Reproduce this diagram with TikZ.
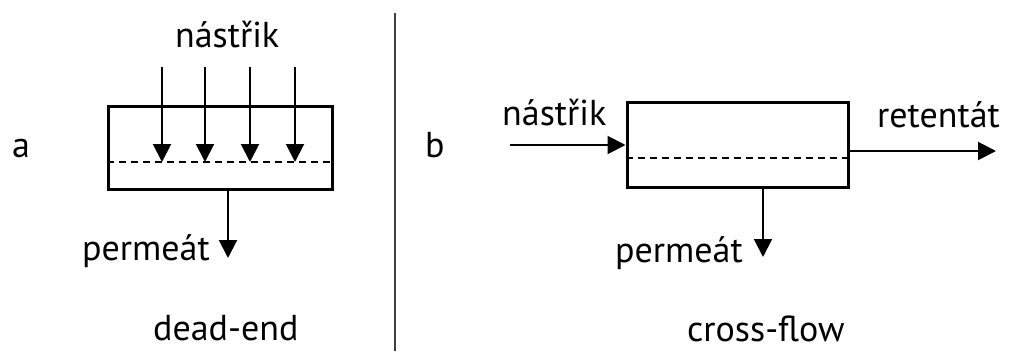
\documentclass[tikz,border=0pt]{standalone}
\usepackage{fontspec}
\setmainfont{PT Sans}
\usetikzlibrary{arrows.meta}
\begin{document}
\begin{tikzpicture}[x=1pt,y=-1pt,
  lbl/.style={font=\fontsize{36}{42}\selectfont, inner sep=0pt, anchor=base west},
  unitbox/.style={draw, line width=3pt, inner sep=0pt},
  flow/.style={line width=2pt, -{Triangle[length=18pt,width=18pt]}},
  memb/.style={line width=2pt, dash pattern=on 7pt off 5pt},
  sep/.style={line width=1.4pt, black!75}]
\useasboundingbox[fill=white] (0,0) rectangle (1010,351);
% ---------- a: dead-end ----------
\node[unitbox, minimum width=224pt, minimum height=83pt] (boxa) at (220,147.5) {};
\coordinate (ma) at (108,162);
\draw[memb] (boxa.west |- ma) -- (boxa.east |- ma);
\foreach \i/\x in {1/162,2/205,3/250,4/295}{
  \coordinate (fa\i) at (\x,67);
  \draw[flow] (fa\i) -- (fa\i |- ma);
}
\coordinate (pa) at (228,258);
\draw[flow] (boxa.south -| pa) -- (pa);
\node[lbl] (ta) at (12,157) {a};
\node[lbl] (feeda) at (175,47) {nástřik};
\node[lbl] (perma) at (82,260) {permeát};
\node[lbl] (dead) at (153,340) {dead-end};
% ---------- separator ----------
\coordinate (st) at (395,13);
\coordinate (sb) at (395,351);
\draw[sep] (st) -- (sb);
% ---------- b: cross-flow ----------
\node[unitbox, minimum width=221pt, minimum height=85pt] (boxb) at (737.5,144.5) {};
\coordinate (mb) at (627,158);
\draw[memb] (boxb.west |- mb) -- (boxb.east |- mb);
\coordinate (fin) at (510,145);
\draw[flow] (fin) -- (fin -| boxb.west);
\coordinate (rout) at (996,151);
\draw[flow] (rout -| boxb.east) -- (rout);
\coordinate (pb) at (763,257);
\draw[flow] (boxb.south -| pb) -- (pb);
\node[lbl] (tb) at (425,157) {b};
\node[lbl] (feedb) at (502,125) {nástřik};
\node[lbl] (ret) at (877,127) {retentát};
\node[lbl] (permb) at (615,262) {permeát};
\node[lbl] (cross) at (687,341) {cross-flow};
\end{tikzpicture}
\end{document}
